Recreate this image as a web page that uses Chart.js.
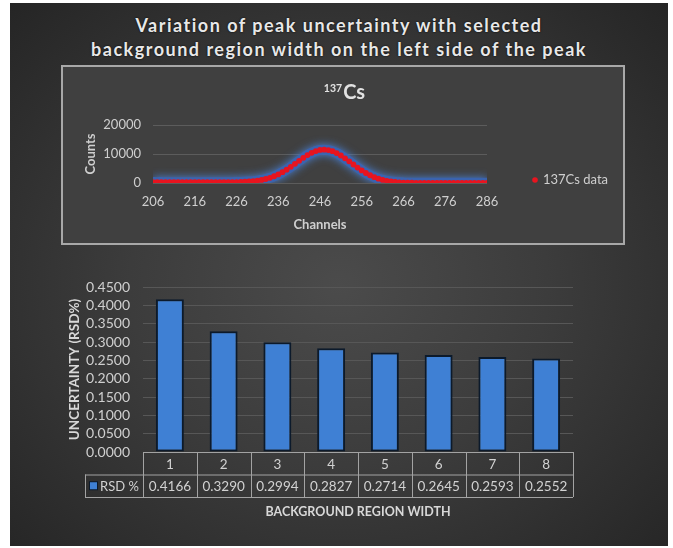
<!DOCTYPE html>
<html>
<head>
<meta charset="utf-8">
<script src="https://cdn.jsdelivr.net/npm/chart.js@4.4.1/dist/chart.umd.min.js"></script>
<style>
  body { margin: 0; background: #fff; width: 673px; height: 548px; position: relative; overflow: hidden; font-family: Lato, sans-serif; }
  #bg { position: absolute; left: 10px; top: 3px; width: 658px; height: 543px;
        background: radial-gradient(ellipse at 50% 52%, #4b4b4b 0%, #3c3c3c 45%, #252525 100%); }
  #title { position: absolute; left: 10px; top: 13px; width: 658px; text-align: center; color: #e8e8e8;
           font: bold 18px Lato, sans-serif; letter-spacing: 1.5px; line-height: 24px; text-shadow: 0 0 2px #000; }
  #box { position: absolute; left: 61px; top: 65px; width: 564px; height: 180px; box-sizing: border-box;
         border: 2px solid #a8a8a8; background: #404040; }
  #topWrap { position: absolute; left: 61px; top: 65px; width: 564px; height: 180px; }
  #barWrap { position: absolute; left: 10px; top: 255px; width: 658px; height: 290px; }
</style>
</head>
<body>
<div id="bg"></div>
<div id="title">Variation of peak uncertainty with selected<br>background region width on the left side of the peak</div>
<div id="box"></div>
<div id="topWrap"><canvas id="peakChart" width="564" height="180"></canvas></div>
<div id="barWrap"><canvas id="rsdChart" width="658" height="290"></canvas></div>
<script>
// spectrum around the 137Cs peak
const channels = [206, 207, 208, 209, 210, 211, 212, 213, 214, 215, 216, 217, 218, 219, 220, 221, 222, 223, 224, 225, 226,
    227, 228, 229, 230, 231, 232, 233, 234, 235, 236, 237, 238, 239, 240, 241, 242, 243, 244, 245, 246, 247,
    248, 249, 250, 251, 252, 253, 254, 255, 256, 257, 258, 259, 260, 261, 262, 263, 264, 265, 266, 267, 268,
    269, 270, 271, 272, 273, 274, 275, 276, 277, 278, 279, 280, 281, 282, 283, 284, 285, 286];
const counts = [310, 300, 305, 295, 290, 300, 285, 280, 290, 275, 280, 270, 275, 265, 270, 260, 265, 270, 280, 300, 330,
    380, 440, 520, 640, 810, 1050, 1380, 1800, 2320, 2970, 3730, 4610, 5570, 6600, 7650, 8670, 9620, 10420, 11020, 11390, 11500,
    11360, 10960, 10320, 9490, 8510, 7460, 6380, 5330, 4340, 3450, 2680, 2020, 1490, 1070, 750, 510, 340, 225, 150, 105, 80,
    70, 65, 60, 62, 58, 55, 57, 52, 50, 54, 50, 48, 52, 47, 50, 46, 48, 45];

// uncertainty vs background region width
const widths = ['1', '2', '3', '4', '5', '6', '7', '8'];
const rsd = [0.4166, 0.3290, 0.2994, 0.2827, 0.2714, 0.2645, 0.2593, 0.2552];

const peakPoints = channels.map((c, i) => ({ x: c, y: counts[i] }));

const tickColor = '#cfcfcf';
const gridColor = '#5c5c5c';

// glow + title + legend for the small chart
const peakDecor = {
    id: 'peakDecor',
    beforeDatasetDraw(chart, args) {
        if (args.index === 1) {
            chart.ctx.save();
            chart.ctx.shadowColor = '#4a86e0';
            chart.ctx.shadowBlur = 8;
        }
    },
    afterDatasetDraw(chart, args) {
        if (args.index === 1) chart.ctx.restore();
    },
    afterDraw(chart) {
        const ctx = chart.ctx;
        const a = chart.chartArea;
        ctx.save();
        // title 137Cs
        ctx.fillStyle = '#e2e2e2';
        ctx.textBaseline = 'alphabetic';
        ctx.font = 'bold 10.5px Lato';
        const w1 = ctx.measureText('137').width;
        ctx.font = 'bold 20px Lato';
        const w2 = ctx.measureText('Cs').width;
        const x0 = 283 - (w1 + w2) / 2;
        ctx.font = 'bold 10.5px Lato';
        ctx.fillText('137', x0, 27);
        ctx.font = 'bold 20px Lato';
        ctx.fillText('Cs', x0 + w1 + 1, 34);
        // legend
        const ds = chart.data.datasets[0];
        const lx = a.right + 48, ly = a.bottom - 3;
        ctx.fillStyle = ds.backgroundColor;
        ctx.beginPath();
        ctx.arc(lx, ly, 2.8, 0, Math.PI * 2);
        ctx.fill();
        ctx.fillStyle = tickColor;
        ctx.font = '13px Lato';
        ctx.textBaseline = 'middle';
        ctx.fillText(ds.label, lx + 8, ly);
        ctx.restore();
    }
};

new Chart(document.getElementById('peakChart'), {
    type: 'scatter',
    data: {
        datasets: [{
            label: '137Cs data',
            data: peakPoints,
            backgroundColor: '#e8141f',
            borderColor: '#e8141f',
            pointRadius: 2.9,
            pointBorderWidth: 0,
            order: 1
        }, {
            label: 'glow',
            type: 'line',
            data: peakPoints,
            borderColor: 'rgba(58,100,178,0.9)',
            borderWidth: 10,
            pointRadius: 0,
            tension: 0.3,
            fill: false,
            order: 2
        }]
    },
    plugins: [peakDecor],
    options: {
        responsive: false,
        animation: false,
        events: [],
        layout: { padding: { left: 18, right: 138, top: 60, bottom: 8 } },
        plugins: { legend: { display: false }, title: { display: false }, tooltip: { enabled: false } },
        scales: {
            x: {
                type: 'linear', min: 206, max: 286,
                ticks: { stepSize: 10, color: tickColor, font: { family: 'Lato', size: 13 }, padding: 11, maxRotation: 0 },
                grid: { display: false, drawTicks: false },
                border: { display: false },
                title: { display: true, text: 'Channels', color: tickColor, font: { family: 'Lato', size: 13, weight: 'bold' } },
                afterFit(scale) { scale.height = 54; }
            },
            y: {
                min: 0, max: 20000,
                ticks: { stepSize: 10000, color: tickColor, font: { family: 'Lato', size: 13 }, padding: 12,
                    callback: (v) => String(v) },
                grid: { color: gridColor, drawTicks: false },
                border: { display: false },
                title: { display: true, text: 'Counts', color: tickColor, font: { family: 'Lato', size: 13, weight: 'bold' } },
                afterFit(scale) { scale.width = 74; }
            }
        }
    }
});

// data table under the bars
const dataTable = {
    id: 'dataTable',
    afterDraw(chart) {
        const ctx = chart.ctx;
        const a = chart.chartArea;
        const x = chart.scales.x;
        const rowH = 22.5;
        const top = a.bottom, mid = top + rowH, bot = mid + rowH;
        const step = x.getPixelForValue(1) - x.getPixelForValue(0);
        const legLeft = 75;
        ctx.save();
        ctx.strokeStyle = '#a3a3a3';
        ctx.lineWidth = 1;
        ctx.beginPath();
        ctx.moveTo(a.left, top + 0.5); ctx.lineTo(a.right, top + 0.5);
        ctx.moveTo(legLeft, mid + 0.5); ctx.lineTo(a.right, mid + 0.5);
        ctx.moveTo(legLeft, bot + 0.5); ctx.lineTo(a.right, bot + 0.5);
        ctx.moveTo(legLeft + 0.5, mid); ctx.lineTo(legLeft + 0.5, bot);
        for (let i = 0; i <= widths.length; i++) {
            const xv = Math.round(x.getPixelForValue(i) - step / 2) + 0.5;
            ctx.moveTo(xv, top); ctx.lineTo(xv, bot);
        }
        ctx.stroke();
        ctx.fillStyle = '#d2d2d2';
        ctx.font = '13.5px Lato';
        ctx.textAlign = 'center';
        ctx.textBaseline = 'middle';
        widths.forEach((w, i) => {
            const cx = x.getPixelForValue(i);
            ctx.fillText(w, cx, top + rowH / 2 + 1);
            ctx.fillText(rsd[i].toFixed(4), cx, mid + rowH / 2 + 1);
        });
        // legend cell
        const ds = chart.data.datasets[0];
        ctx.fillStyle = '#0c1a2b';
        ctx.fillRect(legLeft + 4, mid + rowH / 2 - 4.5, 9, 9);
        ctx.fillStyle = ds.backgroundColor;
        ctx.fillRect(legLeft + 5, mid + rowH / 2 - 3.5, 7, 7);
        ctx.fillStyle = '#d2d2d2';
        ctx.font = '13px Lato';
        ctx.textAlign = 'left';
        ctx.fillText(ds.label, legLeft + 15, mid + rowH / 2 + 1);
        ctx.restore();
    }
};

new Chart(document.getElementById('rsdChart'), {
    type: 'bar',
    data: {
        labels: widths,
        datasets: [{
            label: 'RSD %',
            data: rsd,
            backgroundColor: '#3f80d4',
            borderColor: '#0c1a2b',
            borderWidth: 2,
            borderSkipped: false,
            categoryPercentage: 1,
            barPercentage: 0.52
        }]
    },
    plugins: [dataTable],
    options: {
        responsive: false,
        animation: false,
        events: [],
        layout: { padding: { left: 53, right: 95, top: 32, bottom: 22 } },
        plugins: { legend: { display: false }, tooltip: { enabled: false } },
        scales: {
            x: {
                ticks: { display: false },
                grid: { display: false, drawTicks: false },
                border: { display: false },
                title: { display: true, text: 'BACKGROUND REGION WIDTH', color: '#d8d8d8', font: { family: 'Lato', size: 12.5, weight: 'bold' } },
                afterFit(scale) { scale.height = 71; }
            },
            y: {
                min: 0, max: 0.45,
                ticks: { stepSize: 0.05, autoSkip: false, color: tickColor, font: { family: 'Lato', size: 14 }, padding: 13,
                    callback: (v) => v.toFixed(4) },
                grid: { color: '#575757', drawTicks: false },
                border: { display: false },
                title: { display: true, text: 'UNCERTAINTY (RSD%)', color: '#d8d8d8', font: { family: 'Lato', size: 13.5, weight: 'bold' } },
                afterFit(scale) { scale.width = 80; }
            }
        }
    }
});
</script>
</body>
</html>
